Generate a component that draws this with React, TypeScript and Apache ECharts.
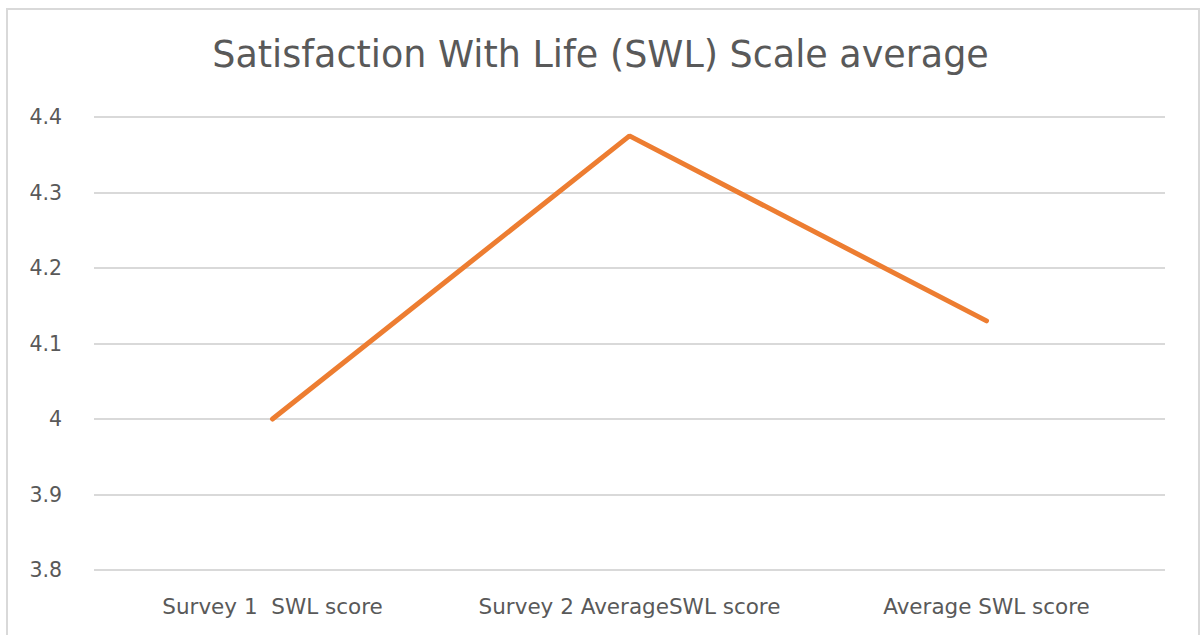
import React, { useEffect, useRef } from "react";
import * as echarts from "echarts";

const titleText = "Satisfaction With Life (SWL) Scale average";
const categories = ["Survey 1  SWL score", "Survey 2 AverageSWL score", "Average SWL score"];
const swlValues = [4.0, 4.375, 4.13];
const yMin = 3.8;
const yMax = 4.4;
const yInterval = 0.1;

export default function App() {
  const ref = useRef<HTMLDivElement>(null);
  useEffect(() => {
    if (!ref.current) return;
    const chart = echarts.init(ref.current, null, { renderer: "svg" });
    const font = "DejaVu Sans, Open Sans, sans-serif";
    chart.setOption({
      animation: false,
      backgroundColor: "#ffffff",
      title: {
        text: titleText,
        left: "center",
        top: 31,
        textStyle: { color: "#595959", fontSize: 36.5, fontWeight: "normal", fontFamily: font },
      },
      graphic: [
        {
          type: "rect",
          shape: { x: 7, y: 9, width: 1192, height: 640 },
          style: { fill: "none", stroke: "#d9d9d9", lineWidth: 2 },
          silent: true,
        },
      ],
      grid: { left: 94, right: 36, top: 117, bottom: 65 },
      xAxis: {
        type: "category",
        data: categories,
        axisLine: { show: false },
        axisTick: { show: false },
        axisLabel: { color: "#595959", fontSize: 21.5, fontFamily: font, margin: 25, interval: 0 },
      },
      yAxis: {
        type: "value",
        min: yMin,
        max: yMax,
        interval: yInterval,
        axisLine: { show: false },
        axisTick: { show: false },
        axisLabel: {
          color: "#595959",
          fontSize: 20.5,
          fontFamily: font,
          margin: 32,
          formatter: (v: number) => String(Math.round(v * 10) / 10),
        },
        splitLine: { lineStyle: { color: "#d9d9d9", width: 2 } },
      },
      series: [
        {
          type: "line",
          data: swlValues,
          showSymbol: false,
          lineStyle: { color: "#ED7D31", width: 5, cap: "round" },
          itemStyle: { color: "#ED7D31" },
        },
      ],
    });
    return () => chart.dispose();
  }, []);
  return (
    <div
      ref={ref}
      style={{ position: "fixed", left: 0, top: 0, width: 1201, height: 635 }}
    />
  );
}
